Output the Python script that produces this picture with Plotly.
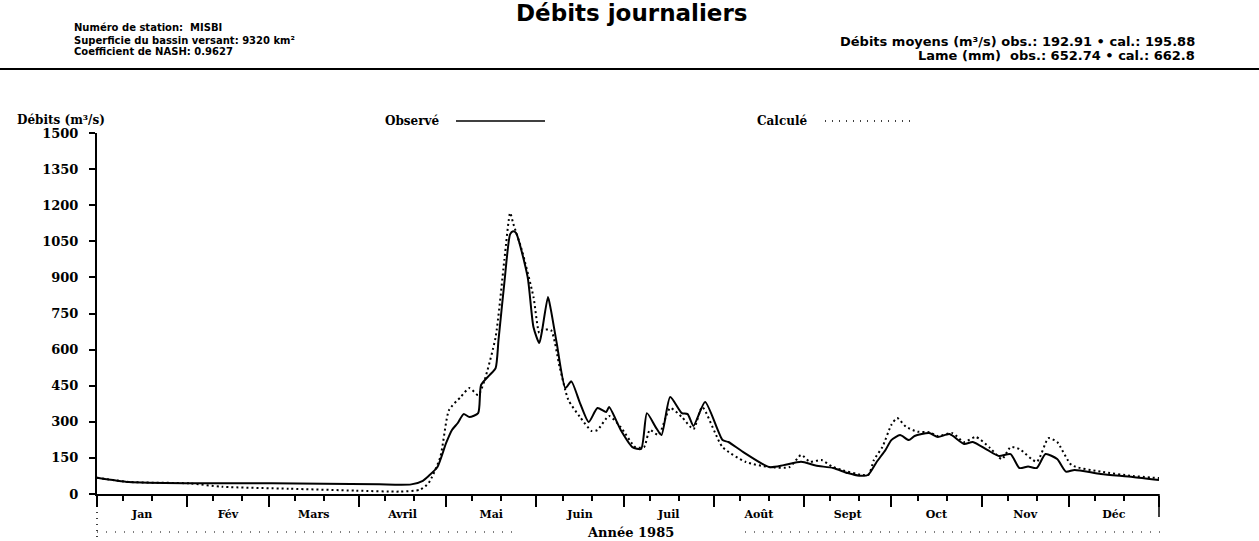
import plotly.graph_objects as go

# Figure geometry (pixels)
W, H = 1259, 541
L, R, T, B = 97, 100, 133, 47

# Calendar of 1985
mois = ["Jan", "Fév", "Mars", "Avril", "Mai", "Juin",
        "Juil", "Août", "Sept", "Oct", "Nov", "Déc"]
jours_par_mois = [31, 28, 31, 30, 31, 30, 31, 31, 30, 31, 30, 31]

# Discharge axis ticks (m3/s)
debit_ticks = [0, 150, 300, 450, 600, 750, 900, 1050, 1200, 1350, 1500]

# Observed daily discharge: day of year, m3/s
obs_jour = [0, 11, 32, 60, 78, 97, 108, 112, 114, 117, 120, 122, 124, 126,
            128, 131, 132, 135, 137, 138, 140, 142, 143, 144, 148, 150, 152,
            153, 155, 156, 158, 161, 163, 166, 169, 172, 175, 176, 180, 184,
            187, 189, 192, 194, 197, 201, 203, 205, 209, 215, 217, 222, 231,
            236, 242, 247, 253, 258, 262, 265, 268, 271, 273, 276, 279, 281,
            286, 289, 293, 298, 301, 306, 310, 314, 317, 320, 323, 326, 330,
            333, 336, 345, 356, 365]
obs_debit = [68, 50, 45, 45, 43, 40, 40, 55, 75, 112, 212, 266, 295, 332,
             320, 336, 453, 495, 523, 640, 877, 1080, 1092, 1085, 902, 694, 627,
             681, 819, 765, 627, 440, 468, 378, 299, 357, 341, 361, 266, 195,
             187, 336, 278, 245, 403, 336, 332, 283, 382, 224, 216, 175, 112,
             120, 134, 118, 108, 87, 76, 79, 134, 183, 224, 245, 224, 241,
             253, 237, 249, 208, 216, 183, 158, 166, 108, 114, 108, 166, 145,
             93, 100, 83, 71, 58]

# Simulated daily discharge: day of year, m3/s
cal_jour = [0, 11, 32, 43, 66, 89, 104, 111, 114, 118, 121, 125, 128, 131,
            133, 137, 140, 142, 143, 146, 150, 152, 153, 156, 159, 162, 166,
            170, 172, 176, 180, 185, 188, 190, 193, 197, 201, 205, 208, 215,
            223, 231, 238, 242, 245, 249, 253, 265, 267, 270, 273, 275, 278,
            282, 286, 289, 294, 298, 302, 307, 311, 314, 317, 323, 327, 330,
            335, 345, 356, 365]
cal_debit = [68, 50, 44, 30, 22, 14, 10, 18, 46, 154, 349, 403, 440, 411,
             465, 652, 972, 1168, 1126, 1014, 819, 669, 681, 681, 528, 391, 320,
             262, 266, 324, 278, 195, 195, 266, 245, 357, 320, 270, 361, 195,
             133, 112, 112, 162, 134, 141, 112, 79, 141, 197, 287, 316, 280,
             259, 257, 241, 253, 216, 237, 191, 145, 195, 187, 134, 232, 216,
             120, 93, 75, 66]

# Month boundaries, centres and 10-day marks
debut_mois = [sum(jours_par_mois[:i]) for i in range(13)]
milieu_mois = [(debut_mois[i] + debut_mois[i + 1]) / 2 for i in range(12)]
decades = [d + k for d in debut_mois[:12] for k in (9, 19)]

PW = W - L - R
PH = H - T - B


def px_x(px):
    return (px - L) / PW


def px_y(py):
    return (H - B - py) / PH


SERIF = "DejaVu Serif"
SANS = "DejaVu Sans"

fig = go.Figure()
fig.add_trace(go.Scatter(
    x=obs_jour, y=obs_debit, mode="lines", name="Observé",
    line=dict(color="black", width=2, shape="spline", smoothing=0.6),
    hoverinfo="skip"))
fig.add_trace(go.Scatter(
    x=cal_jour, y=cal_debit, mode="lines", name="Calculé", xaxis="x2",
    line=dict(color="black", width=2, dash="2px,3px", shape="spline", smoothing=0.6),
    hoverinfo="skip"))

fig.update_layout(
    width=W, height=H,
    margin=dict(l=L, r=R, t=T, b=B, pad=0),
    paper_bgcolor="white", plot_bgcolor="white",
    showlegend=False,
    xaxis=dict(
        range=[0, 365], showgrid=False, zeroline=False,
        showline=True, linecolor="black", linewidth=2,
        tickmode="array", tickvals=debut_mois, showticklabels=False,
        ticks="outside", ticklen=11, tickwidth=2, tickcolor="black",
        minor=dict(tickmode="array", tickvals=decades, ticks="outside",
                   ticklen=5, tickwidth=1.5, tickcolor="black"),
    ),
    xaxis2=dict(
        range=[0, 365], overlaying="x", anchor="y", side="bottom",
        showgrid=False, zeroline=False, showline=False,
        tickmode="array", tickvals=milieu_mois, ticktext=mois,
        ticks="outside", ticklen=10, tickcolor="rgba(0,0,0,0)",
        tickfont=dict(family=SERIF, size=11, color="black", weight="bold"),
    ),
    yaxis=dict(
        range=[0, 1500], showgrid=False, zeroline=False,
        showline=True, linecolor="black", linewidth=2,
        tickmode="array", tickvals=debit_ticks,
        ticks="outside", ticklen=6, tickwidth=1.5, tickcolor="black",
        ticklabelstandoff=8,
        tickfont=dict(family=SERIF, size=13, color="black", weight="bold"),
    ),
)

annotations = [
    dict(text="<b>Débits journaliers</b>", x=px_x(631), y=px_y(13),
         xanchor="center", yanchor="middle",
         font=dict(family=SANS, size=23, color="black")),
    dict(text="<b>Numéro de station:  MISBI</b>", x=px_x(72), y=px_y(28),
         xanchor="left", yanchor="middle",
         font=dict(family=SANS, size=10, color="black")),
    dict(text="<b>Superficie du bassin versant: 9320 km²</b>", x=px_x(72), y=px_y(40),
         xanchor="left", yanchor="middle",
         font=dict(family=SANS, size=10, color="black")),
    dict(text="<b>Coefficient de NASH: 0.9627</b>", x=px_x(72), y=px_y(52),
         xanchor="left", yanchor="middle",
         font=dict(family=SANS, size=10, color="black")),
    dict(text="<b>Débits moyens (m³/s) obs.: 192.91 • cal.: 195.88</b>",
         x=px_x(1197), y=px_y(42), xanchor="right", yanchor="middle",
         font=dict(family=SANS, size=13, color="black")),
    dict(text="<b>Lame (mm)  obs.: 652.74 • cal.: 662.8</b>",
         x=px_x(1197), y=px_y(55), xanchor="right", yanchor="middle",
         font=dict(family=SANS, size=13, color="black")),
    dict(text="<b>Débits (m³/s)</b>", x=px_x(15), y=px_y(120),
         xanchor="left", yanchor="middle",
         font=dict(family=SERIF, size=12, color="black")),
    dict(text="<b>Observé</b>", x=px_x(383), y=px_y(121),
         xanchor="left", yanchor="middle",
         font=dict(family=SERIF, size=12, color="black")),
    dict(text="<b>Calculé</b>", x=px_x(755), y=px_y(121),
         xanchor="left", yanchor="middle",
         font=dict(family=SERIF, size=12, color="black")),
    dict(text="<b>Année 1985</b>", x=px_x(630), y=px_y(532),
         xanchor="center", yanchor="middle",
         font=dict(family=SERIF, size=13, color="black")),
]
for a in annotations:
    a.update(xref="paper", yref="paper", showarrow=False)
fig.update_layout(annotations=annotations)


def seg(x0, y0, x1, y1, width=1.5, dash="solid"):
    return dict(type="line", xref="paper", yref="paper",
                x0=px_x(x0), y0=px_y(y0), x1=px_x(x1), y1=px_y(y1),
                line=dict(color="black", width=width, dash=dash))


shapes = [
    seg(0, 69, W, 69, width=2),                      # header rule
    seg(456, 121, 545, 121, width=1.5),              # legend: observed
    seg(825, 121, 915, 121, width=1.5, dash="1px,6px"),  # legend: simulated
    seg(97, 494, 97, 537, width=1.5, dash="1px,5px"),    # frame below axis, left
    seg(1159, 494, 1159, 517, width=1.5),            # frame below axis, right
    seg(97, 532, 520, 532, width=1.2, dash="1px,8px"),
    seg(745, 532, 1160, 532, width=1.2, dash="1px,8px"),
]
fig.update_layout(shapes=shapes)

fig.write_html("out.html")
